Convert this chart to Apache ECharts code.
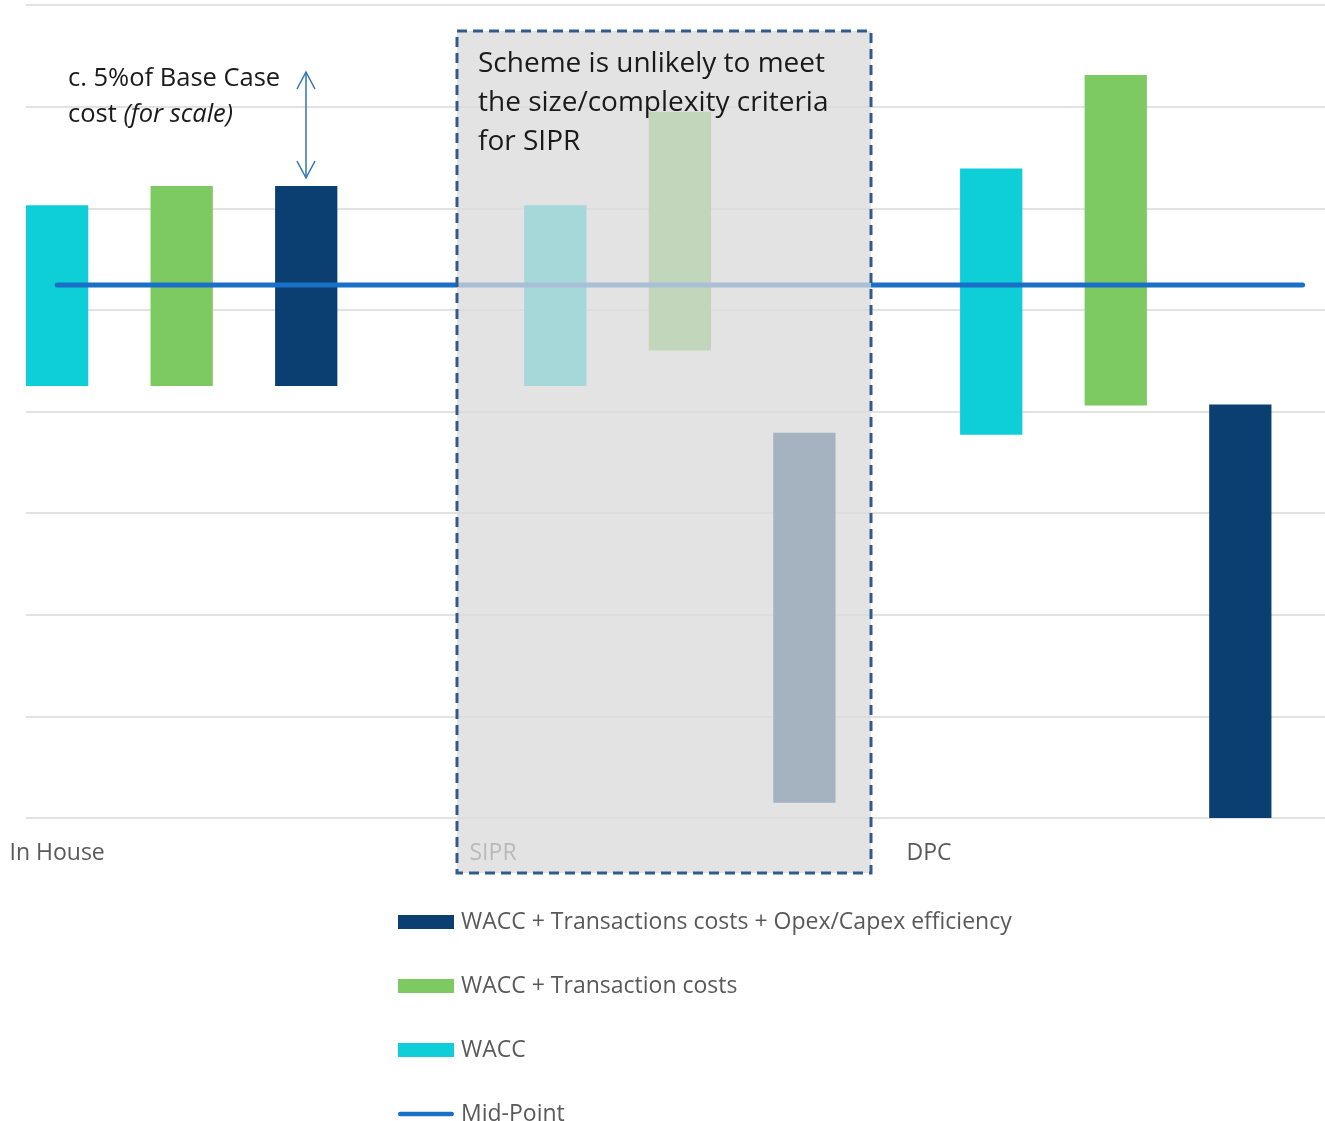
<!DOCTYPE html>
<html>
<head>
<meta charset="utf-8">
<script src="https://cdn.jsdelivr.net/npm/echarts@6/dist/echarts.min.js"></script>
<style>
  html, body { margin: 0; padding: 0; background: #fff; }
  #main { width: 1325px; height: 1121px; }
</style>
</head>
<body>
<div id="main"></div>
<script>
// categories and where they sit on the (hidden) slot axis
var categories = ['In House', 'SIPR', 'DPC'];
var categoryPos = [1, 8, 15];

// bar slots for each category (WACC, +Transaction, +Opex/Capex)
var waccPos = [1, 9, 16];
var transPos = [3, 11, 18];
var opexPos = [5, 13, 20];

// low / high of each floating bar
var waccLow = [4.25, 4.25, 3.77];
var waccHigh = [6.03, 6.03, 6.39];
var transLow = [4.25, 4.60, 4.06];
var transHigh = [6.22, 6.95, 7.31];
var opexLow = [4.25, 0.15, 0];
var opexHigh = [6.22, 3.79, 4.07];

// mid point line
var midX = [1, 21];
var midY = [5.245, 5.245];

var names = [
    'WACC + Transactions costs + Opex/Capex efficiency',
    'WACC + Transaction costs',
    'WACC',
    'Mid-Point'
];
var font = '"Open Sans", Lato, sans-serif';

function rangeData(pos, low, high) {
    var out = [];
    for (var i = 0; i < pos.length; i++) {
        out.push([pos[i], low[i], high[i]]);
    }
    return out;
}

function renderRange(params, api) {
    var x = api.value(0);
    var top = api.coord([x, api.value(2)]);
    var bottom = api.coord([x, api.value(1)]);
    var w = api.size([1, 0])[0];
    return {
        type: 'rect',
        shape: { x: top[0] - w / 2, y: top[1], width: w, height: bottom[1] - top[1] },
        style: { fill: api.visual('color') }
    };
}

var chart = echarts.init(document.getElementById('main'));
var option = {
    animation: false,
    grid: { left: 26, top: 5, right: 0, height: 813 },
    xAxis: {
        type: 'value',
        min: 0.5,
        max: 21.36,
        splitLine: { show: false },
        axisLine: { show: false },
        axisTick: { show: false },
        axisLabel: {
            customValues: categoryPos,
            formatter: function (v) {
                var k = categoryPos.indexOf(v);
                return k >= 0 ? categories[k] : '';
            },
            color: '#595959',
            fontFamily: font,
            fontSize: 23,
            lineHeight: 24,
            margin: 23
        }
    },
    yAxis: {
        type: 'value',
        min: 0,
        max: 8,
        interval: 1,
        axisLabel: { show: false },
        axisLine: { show: false },
        axisTick: { show: false },
        splitLine: { lineStyle: { color: '#d9d9d9', width: 1.5 } }
    },
    legend: {
        orient: 'vertical',
        left: 398,
        top: 910,
        height: 260,
        padding: 0,
        itemWidth: 56,
        itemHeight: 14,
        itemGap: 40,
        textStyle: { color: '#595959', fontFamily: font, fontSize: 23, lineHeight: 24, padding: [0, 0, 0, 2] },
        data: [
            { name: names[0], icon: 'rect' },
            { name: names[1], icon: 'rect' },
            { name: names[2], icon: 'rect' },
            { name: names[3], icon: 'path://M2.5,0H59.5A2.5,2.5,0,0,1,59.5,5H2.5A2.5,2.5,0,0,1,2.5,0Z' }
        ]
    },
    series: [
        {
            name: names[2],
            type: 'custom',
            renderItem: renderRange,
            itemStyle: { color: '#0ecfd8' },
            encode: { x: 0, y: [1, 2] },
            data: rangeData(waccPos, waccLow, waccHigh)
        },
        {
            name: names[1],
            type: 'custom',
            renderItem: renderRange,
            itemStyle: { color: '#7dc962' },
            encode: { x: 0, y: [1, 2] },
            data: rangeData(transPos, transLow, transHigh)
        },
        {
            name: names[0],
            type: 'custom',
            renderItem: renderRange,
            itemStyle: { color: '#0b3f72' },
            encode: { x: 0, y: [1, 2] },
            data: rangeData(opexPos, opexLow, opexHigh)
        },
        {
            name: names[3],
            type: 'line',
            z: 5,
            symbol: 'none',
            lineStyle: { color: '#1a6fc6', width: 5, cap: 'round' },
            itemStyle: { color: '#1a6fc6' },
            data: [[midX[0], midY[0]], [midX[1], midY[1]]]
        }
    ],
    graphic: [
        {
            type: 'rect',
            z: 100,
            shape: { x: 457, y: 31, width: 414, height: 842 },
            style: {
                fill: 'rgba(217,217,217,0.75)',
                stroke: '#2c5d8c',
                lineWidth: 3,
                lineDash: [10, 6]
            }
        },
        {
            type: 'text',
            z: 101,
            left: 478,
            top: 45,
            style: {
                text: 'Scheme is unlikely to meet\nthe size/complexity criteria\nfor SIPR',
                fill: '#1a1a1a',
                font: '28px ' + font,
                lineHeight: 39
            }
        },
        {
            type: 'text',
            z: 101,
            left: 68,
            top: 66,
            style: {
                text: '{n|c. 5%of Base Case}\n{n|cost }{i|(for scale)}',
                rich: {
                    n: { fill: '#1a1a1a', fontSize: 25.5, fontFamily: font, lineHeight: 36 },
                    i: { fill: '#1a1a1a', fontSize: 25.5, fontFamily: font, fontStyle: 'italic', lineHeight: 36 }
                }
            }
        },
        {
            type: 'polyline',
            z: 101,
            shape: { points: [[306, 72], [306, 178]] },
            style: { stroke: '#2e75b6', lineWidth: 1.5, fill: null }
        },
        {
            type: 'polyline',
            z: 101,
            shape: { points: [[297, 89], [306, 72], [315, 89]] },
            style: { stroke: '#2e75b6', lineWidth: 1.5, fill: null }
        },
        {
            type: 'polyline',
            z: 101,
            shape: { points: [[297, 161], [306, 178], [315, 161]] },
            style: { stroke: '#2e75b6', lineWidth: 1.5, fill: null }
        }
    ]
};
chart.setOption(option);
</script>
</body>
</html>
